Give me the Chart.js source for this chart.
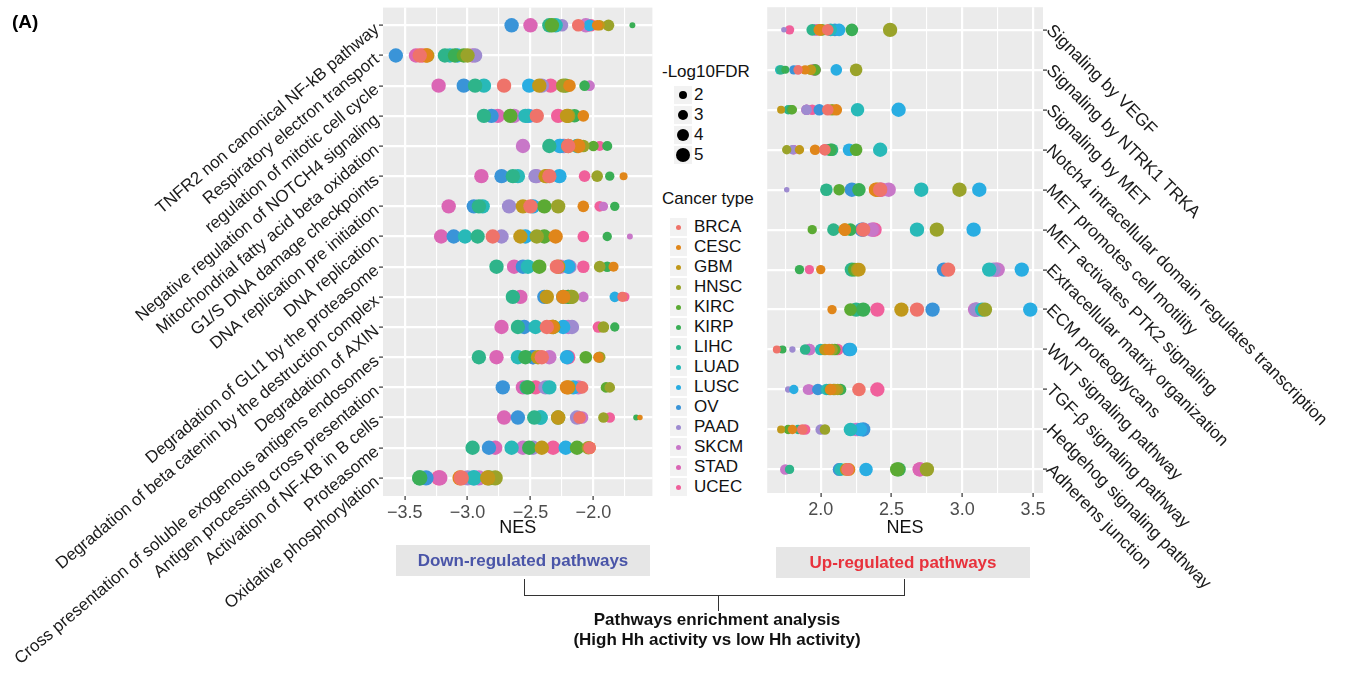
<!DOCTYPE html>
<html>
<head>
<meta charset="utf-8">
<script src="https://cdn.jsdelivr.net/npm/chart.js@4.4.1/dist/chart.umd.min.js"></script>
<style>
  html, body { margin:0; padding:0; background:#fff; }
  #wrap { position:relative; width:1349px; height:680px; overflow:hidden; font-family:"Liberation Sans", Arial, sans-serif; }
  .abs { position:absolute; }
  .lgtxt { font-size:17px; line-height:20px; color:#111; white-space:nowrap; }
  .key { position:absolute; background:#f2f2f2; }
  .dot { position:absolute; border-radius:50%; }
</style>
</head>
<body>
<div id="wrap">
  <div class="abs" style="left:0;top:0;width:660px;height:680px;"><canvas id="down" width="660" height="680"></canvas></div>
  <div class="abs" style="left:760px;top:0;width:589px;height:620px;"><canvas id="up" width="589" height="620"></canvas></div>
  <div class="abs" style="left:12px;top:11px;font-weight:bold;font-size:19px;color:#000;">(A)</div>
  <div id="legend"></div>
  <div class="abs" style="left:396px;top:545px;width:254px;height:31px;background:#e6e6e6;"></div>
  <div class="abs" style="left:396px;top:545px;width:254px;height:31px;line-height:31px;text-align:center;font-weight:bold;font-size:17px;color:#4a55a8;">Down-regulated pathways</div>
  <div class="abs" style="left:776px;top:547px;width:254px;height:31px;background:#e6e6e6;"></div>
  <div class="abs" style="left:776px;top:547px;width:254px;height:31px;line-height:31px;text-align:center;font-weight:bold;font-size:17px;color:#e8323c;">Up-regulated pathways</div>
  <div class="abs" style="left:524px;top:579px;width:379px;height:16px;border:1.5px solid #333;border-top:none;"></div>
  <div class="abs" style="left:718px;top:596px;width:0;height:15px;border-left:1.5px solid #333;"></div>
  <div class="abs" style="left:500px;top:610px;width:434px;text-align:center;font-weight:bold;font-size:17px;line-height:20px;color:#111;">Pathways enrichment analysis<br>(High Hh activity vs low Hh activity)</div>
</div>
<script>
// ---------------- data ----------------
const cancerTypes = ['BRCA','CESC','GBM','HNSC','KIRC','KIRP','LIHC','LUAD','LUSC','OV','PAAD','SKCM','STAD','UCEC'];
const cancerColors = ['#ef736a','#e0861a','#c0981a','#9aa32a','#5baa33','#3aae55','#2eb48a','#28b9b8','#29ade2','#3a94d8','#9e8bd0','#c877c8','#db66b5','#f0609b'];

const downPathways = [
  'TNFR2 non canonical NF-kB pathway',
  'Respiratory electron transport',
  'regulation of mitotic cell cycle',
  'Negative regulation of NOTCH4 signaling',
  'Mitochondrial fatty acid beta oxidation',
  'G1/S DNA damage checkpoints',
  'DNA replication pre initiation',
  'DNA replication',
  'Degradation of GLI1 by the proteasome',
  'Degradation of beta catenin by the destruction complex',
  'Degradation of AXIN',
  'Cross presentation of soluble exogenous antigens endosomes',
  'Antigen processing cross presentation',
  'Activation of NF-KB in B cells',
  'Proteasome',
  'Oxidative phosphorylation'
];
const upPathways = [
  'Signaling by VEGF',
  'Signaling by NTRK1 TRKA',
  'Signaling by MET',
  'Notch4 intracellular domain regulates transcription',
  'MET promotes cell motility',
  'MET activates PTK2 signaling',
  'Extracellular matrix organization',
  'ECM proteoglycans',
  'WNT signaling pathway',
  'TGF-\u03B2 signaling pathway',
  'Hedgehog signaling pathway',
  'Adherens junction'
];

// NES, one row per pathway, columns follow cancerTypes
const downNES = [
  [-2.12,-1.97,-1.95,-1.88,-2.33,-1.69,-2.35,-2.30,-2.03,-2.65,-2.25,-2.06,-2.50,-2.02],
  [-3.38,-3.33,-3.32,-3.00,-3.03,-3.10,-3.18,-3.14,-3.08,-3.57,-2.94,-2.96,-3.41,-3.36],
  [-2.71,-2.19,-2.43,-2.24,-2.22,-2.07,-2.94,-2.87,-2.51,-3.03,-2.41,-2.03,-3.23,-2.34],
  [-2.45,-2.08,-2.21,-2.20,-2.66,-2.15,-2.87,-2.54,-2.52,-2.81,-2.51,-2.63,-2.76,-2.28],
  [-2.20,-2.12,-2.20,-2.08,-2.00,-1.89,-2.35,-2.13,-2.27,-2.26,-2.24,-2.56,-2.23,-1.95],
  [-2.35,-1.76,-2.38,-1.97,-2.37,-1.87,-2.64,-2.60,-2.27,-2.73,-2.46,-2.45,-2.89,-2.07],
  [-2.50,-2.08,-2.56,-2.28,-2.39,-1.83,-2.91,-2.88,-2.48,-2.95,-2.67,-1.92,-3.15,-1.95],
  [-2.80,-2.30,-2.58,-2.45,-2.39,-1.89,-2.92,-3.02,-2.54,-3.11,-2.73,-1.71,-3.21,-2.08],
  [-2.29,-1.84,-2.28,-1.95,-2.43,-1.89,-2.77,-2.52,-2.20,-2.56,-2.19,-2.26,-2.63,-2.08],
  [-1.77,-2.24,-2.37,-2.17,-2.18,-2.20,-2.64,-2.24,-1.83,-2.39,-2.20,-2.08,-2.58,-1.75],
  [-2.37,-2.33,-2.32,-1.92,-2.32,-1.83,-2.60,-2.46,-2.24,-2.55,-2.17,-2.20,-2.73,-1.96],
  [-2.41,-1.96,-2.44,-1.95,-2.06,-2.54,-2.91,-2.60,-2.21,-2.48,-2.48,-2.35,-2.77,-2.20],
  [-2.09,-2.21,-2.20,-1.87,-1.90,-2.52,-2.53,-2.35,-2.16,-2.72,-2.38,-2.12,-2.56,-2.46],
  [-2.11,-1.63,-2.28,-1.92,-2.28,-1.66,-2.47,-2.42,-2.42,-2.60,-2.13,-2.09,-2.71,-1.87],
  [-2.03,-2.03,-2.41,-2.04,-2.13,-2.51,-2.96,-2.65,-2.22,-2.83,-2.48,-2.56,-2.78,-2.32],
  [-3.05,-3.06,-2.84,-2.78,-2.83,-3.38,-3.38,-2.95,-2.95,-3.33,-3.00,-2.91,-3.22,-3.23]
];
// -log10(FDR)
const downLogFDR = [
  [4,3,3,3.5,5,1.4,5,5,3.5,5,4,5,5,4],
  [5,5,5,5,5,5,5,5,5,5,5,5,5,5],
  [5,4,5,5,5,3,5,5,5,5,5,3,5,5],
  [5,3.5,5,5,5,4.5,5,5,5,5,5,5,5,5],
  [5,5,5,4,3,2.8,5,5,5,5,5,5,5,2.8],
  [5,2,5,3.5,5,2.5,5,5,5,5,5,5,5,3.5],
  [5,3.5,5,5,5,2.5,5,5,5,5,5,2.5,5,3],
  [5,5,5,5,5,2.5,5,5,5,5,5,1.4,5,3.5],
  [5,2.8,5,3.5,5,3,5,5,5,5,5,5,5,4],
  [2.8,5,5,5,5,5,5,5,3,5,5,3,5,2.5],
  [5,5,5,3.5,5,2.5,5,5,5,5,5,5,5,3.5],
  [5,3,5,3.5,4,5,5,5,5,5,5,5,5,5],
  [4,5,5,3,3,5,5,5,5,5,5,5,5,5],
  [4,1.3,5,3,5,1.4,5,5,5,5,5,4,5,3],
  [4,4,5,4.5,5,5,5,5,5,5,5,5,5,5],
  [5.5,5.5,5.5,5.5,5.5,5.5,5.5,5.5,5.5,5.5,5.5,5.5,5.5,5.5]
];

const upNES = [
  [2.05,1.99,2.00,2.49,2.01,2.22,1.94,2.07,2.13,2.10,1.74,1.96,1.97,1.78],
  [1.84,1.89,1.93,2.25,1.96,1.75,1.72,1.71,2.11,1.81,1.95,1.96,1.95,1.84],
  [2.05,2.11,1.72,2.08,1.80,1.79,1.77,2.26,2.55,1.99,1.90,1.90,1.90,1.94],
  [2.03,1.96,1.85,1.76,2.25,2.07,2.08,2.42,2.20,2.05,1.80,1.81,1.81,2.03],
  [2.42,2.39,2.40,2.98,2.13,2.27,2.04,2.71,3.12,2.22,1.76,2.48,2.43,2.42],
  [2.30,2.17,2.17,2.82,1.94,2.21,2.09,2.68,3.08,2.29,2.30,2.36,2.37,2.38],
  [2.90,2.00,2.27,2.26,2.24,1.85,2.22,3.19,3.42,2.87,3.22,3.25,3.24,1.92],
  [2.68,2.08,2.57,3.16,2.21,2.30,2.25,3.14,3.48,2.79,3.10,3.09,3.10,2.40],
  [1.69,2.06,2.03,2.08,2.10,1.73,1.89,2.00,2.21,2.20,1.80,1.92,1.92,2.12],
  [2.27,2.07,2.10,2.12,2.09,2.14,2.06,2.04,1.81,1.98,1.77,1.91,1.92,2.40],
  [1.87,1.80,1.72,2.03,1.77,1.77,1.84,2.21,2.28,2.30,2.00,2.25,2.26,1.89],
  [2.19,2.20,2.18,2.75,2.54,2.55,1.78,2.14,2.32,2.13,2.13,1.75,2.70,2.70]
];
const upLogFDR = [
  [3.5,3.5,3.5,5,3.5,4,3.5,4,4,4,1.3,3.5,3.5,2.5],
  [2.5,2.5,3,4,3.5,2,2.5,2.5,3.5,2.5,3,3.5,3.5,2.5],
  [3.5,3.5,2,3.5,2.5,2.5,2.5,4.5,5,3.5,3,3,3,3],
  [3.5,3,2.5,2.5,4,4,4,5,4,3.5,2.5,2.5,2.5,3.5],
  [5,5,5,5,3.5,4.5,4,5,5,5,1.3,5,5,5],
  [5,4,4,5,2.5,4,4,5,5,5,5,5,5,5],
  [5,2.5,4.5,4.5,4.5,2.5,5,5,5,5,5,5,5,2.5],
  [5,2.5,5,5,4,5,5,5,5,5,5,5,5,5],
  [2,3.5,3.5,3.5,3.5,2,3,3.5,4.5,4.5,1.5,3.5,3.5,3.5],
  [4.5,3.5,3.5,3.5,3.5,3.5,3.5,3.5,2.5,3.5,1.5,3,3,5],
  [3,2.5,2,3,2.5,2,2.5,4.5,4.5,5,3,4.5,4.5,3],
  [4,4,4,5,5,5,2.5,4,4.5,4,4,3,5,5]
];

const downTicks = [-3.5, -3.0, -2.5, -2.0];
const upTicks = [2.0, 2.5, 3.0, 3.5];
const sizeBreaks = [2, 3, 4, 5];

// ---------------- helpers ----------------
const FONT = '"Liberation Sans", Arial, sans-serif';
function radiusOf(v) { return Math.sqrt(Math.max(0.5, 11.93 * v - 7.87)); }
function isTick(list, v) { return list.some(t => Math.abs(t - v) < 1e-6); }
function fmt(v) { return (v < 0 ? '\u2212' : '') + Math.abs(v).toFixed(1); }
function gridValues(list, min, max) {
  const out = [];
  const step = (list[1] - list[0]) / 2;
  for (let v = list[0] - 4 * step; v <= max + 1e-9; v += step) {
    if (v >= min - 1e-9) out.push(Math.round(v * 1000) / 1000);
  }
  return out;
}
function buildDatasets(nes, fdr) {
  return cancerTypes.map((ct, c) => ({
    label: ct,
    backgroundColor: cancerColors[c],
    borderWidth: 0,
    hoverBorderWidth: 0,
    data: nes.map((row, i) => row[c] == null ? null : { x: row[c], y: i, r: radiusOf(fdr[i][c]) }).filter(d => d)
  }));
}

const panelBg = {
  id: 'panelBg',
  beforeDraw(chart) {
    const a = chart.chartArea, ctx = chart.ctx;
    ctx.save(); ctx.fillStyle = '#ebebeb';
    ctx.fillRect(a.left, a.top, a.right - a.left, a.bottom - a.top);
    ctx.restore();
  }
};

function catLabels(labels, side, angleDeg, size) {
  return {
    id: 'catLabels_' + side,
    afterDraw(chart) {
      const ys = chart.scales.y, a = chart.chartArea, ctx = chart.ctx;
      ctx.save();
      ctx.font = size + 'px ' + FONT;
      ctx.fillStyle = '#1a1a1a';
      labels.forEach((lab, i) => {
        const y = ys.getPixelForValue(i);
        ctx.save();
        if (side === 'left') {
          ctx.translate(a.left - 6, y + 2);
          ctx.rotate(-angleDeg * Math.PI / 180);
          ctx.textAlign = 'right';
        } else {
          ctx.translate(a.right + 6, y - 2);
          ctx.rotate(angleDeg * Math.PI / 180);
          ctx.textAlign = 'left';
        }
        ctx.textBaseline = 'middle';
        ctx.fillText(lab, 0, 0);
        ctx.restore();
      });
      ctx.restore();
    }
  };
}

function makeChart(id, nes, fdr, labels, ticks, xmin, xmax, ymin, ymax, side, opts) {
  const gv = gridValues(ticks, xmin, xmax);
  return new Chart(document.getElementById(id), {
    type: 'bubble',
    data: { datasets: buildDatasets(nes, fdr) },
    options: {
      responsive: false,
      animation: false,
      devicePixelRatio: 1,
      events: [],
      layout: { padding: opts.padding },
      plugins: { legend: { display: false }, tooltip: { enabled: false } },
      scales: {
        x: {
          type: 'linear', min: xmin, max: xmax,
          afterBuildTicks: s => { s.ticks = gv.map(v => ({ value: v })); },
          afterFit: s => { s.height = opts.xAxisHeight; },
          ticks: {
            autoSkip: false, maxRotation: 0, minRotation: 0, padding: 2,
            color: '#4d4d4d', font: { size: 18, family: FONT },
            callback: v => isTick(ticks, v) ? fmt(v) : ''
          },
          grid: {
            color: '#ffffff',
            lineWidth: c => (c.tick && isTick(ticks, c.tick.value)) ? 2.2 : 1.1,
            tickColor: c => (c.tick && isTick(ticks, c.tick.value)) ? '#333333' : 'rgba(0,0,0,0)',
            tickLength: 4, tickWidth: 1.2
          },
          border: { display: false },
          title: { display: true, text: 'NES', color: '#111', font: { size: 18, family: FONT, lineHeight: 1.1 }, padding: { top: 0, bottom: opts.titlePad } }
        },
        y: {
          type: 'linear', position: side, reverse: true, min: ymin, max: ymax,
          afterBuildTicks: s => { s.ticks = labels.map((_, i) => ({ value: i })); },
          afterFit: s => { s.width = opts.yAxisWidth; },
          ticks: { display: false },
          grid: { color: '#ffffff', lineWidth: 2.2, tickColor: '#333333', tickLength: 4, tickWidth: 1.2 },
          border: { display: false }
        }
      }
    },
    plugins: [panelBg, catLabels(labels, side, opts.angle, opts.labelSize)]
  });
}

makeChart('down', downNES, downLogFDR, downPathways, downTicks, -3.672, -1.531, -0.587, 15.6, 'left',
  { padding: { left: 0, right: 3, top: 0, bottom: 140 }, xAxisHeight: 44, yAxisWidth: 383, titlePad: 2, angle: 40, labelSize: 17 });
makeChart('up', upNES, upLogFDR, upPathways, upTicks, 1.622, 3.57, -0.567, 11.59, 'right',
  { padding: { left: 5, right: 0, top: 0, bottom: 80 }, xAxisHeight: 47, yAxisWidth: 306, titlePad: 2, angle: 45, labelSize: 17.5 });

// ---------------- legend (HTML) ----------------
(function () {
  const L = document.getElementById('legend');
  function add(html) { L.insertAdjacentHTML('beforeend', html); }
  add('<div class="abs lgtxt" style="left:662px;top:62px;">-Log10FDR</div>');
  sizeBreaks.forEach((v, i) => {
    const cy = 95 + i * 20, r = radiusOf(v);
    add('<div class="key" style="left:674px;top:' + (cy - 9) + 'px;width:18px;height:18px;"></div>');
    add('<div class="dot" style="background:#000;left:' + (683 - r) + 'px;top:' + (cy - r) + 'px;width:' + (2 * r) + 'px;height:' + (2 * r) + 'px;"></div>');
    add('<div class="abs lgtxt" style="left:694px;top:' + (cy - 10) + 'px;">' + v + '</div>');
  });
  add('<div class="abs lgtxt" style="left:662px;top:189px;">Cancer type</div>');
  cancerTypes.forEach((ct, i) => {
    const cy = 227 + i * 20;
    add('<div class="key" style="left:670px;top:' + (cy - 9) + 'px;width:17px;height:18px;"></div>');
    add('<div class="dot" style="background:' + cancerColors[i] + ';left:675.5px;top:' + (cy - 2.5) + 'px;width:5px;height:5px;"></div>');
    add('<div class="abs lgtxt" style="left:694px;top:' + (cy - 10) + 'px;">' + ct + '</div>');
  });
})();
</script>
</body>
</html>
